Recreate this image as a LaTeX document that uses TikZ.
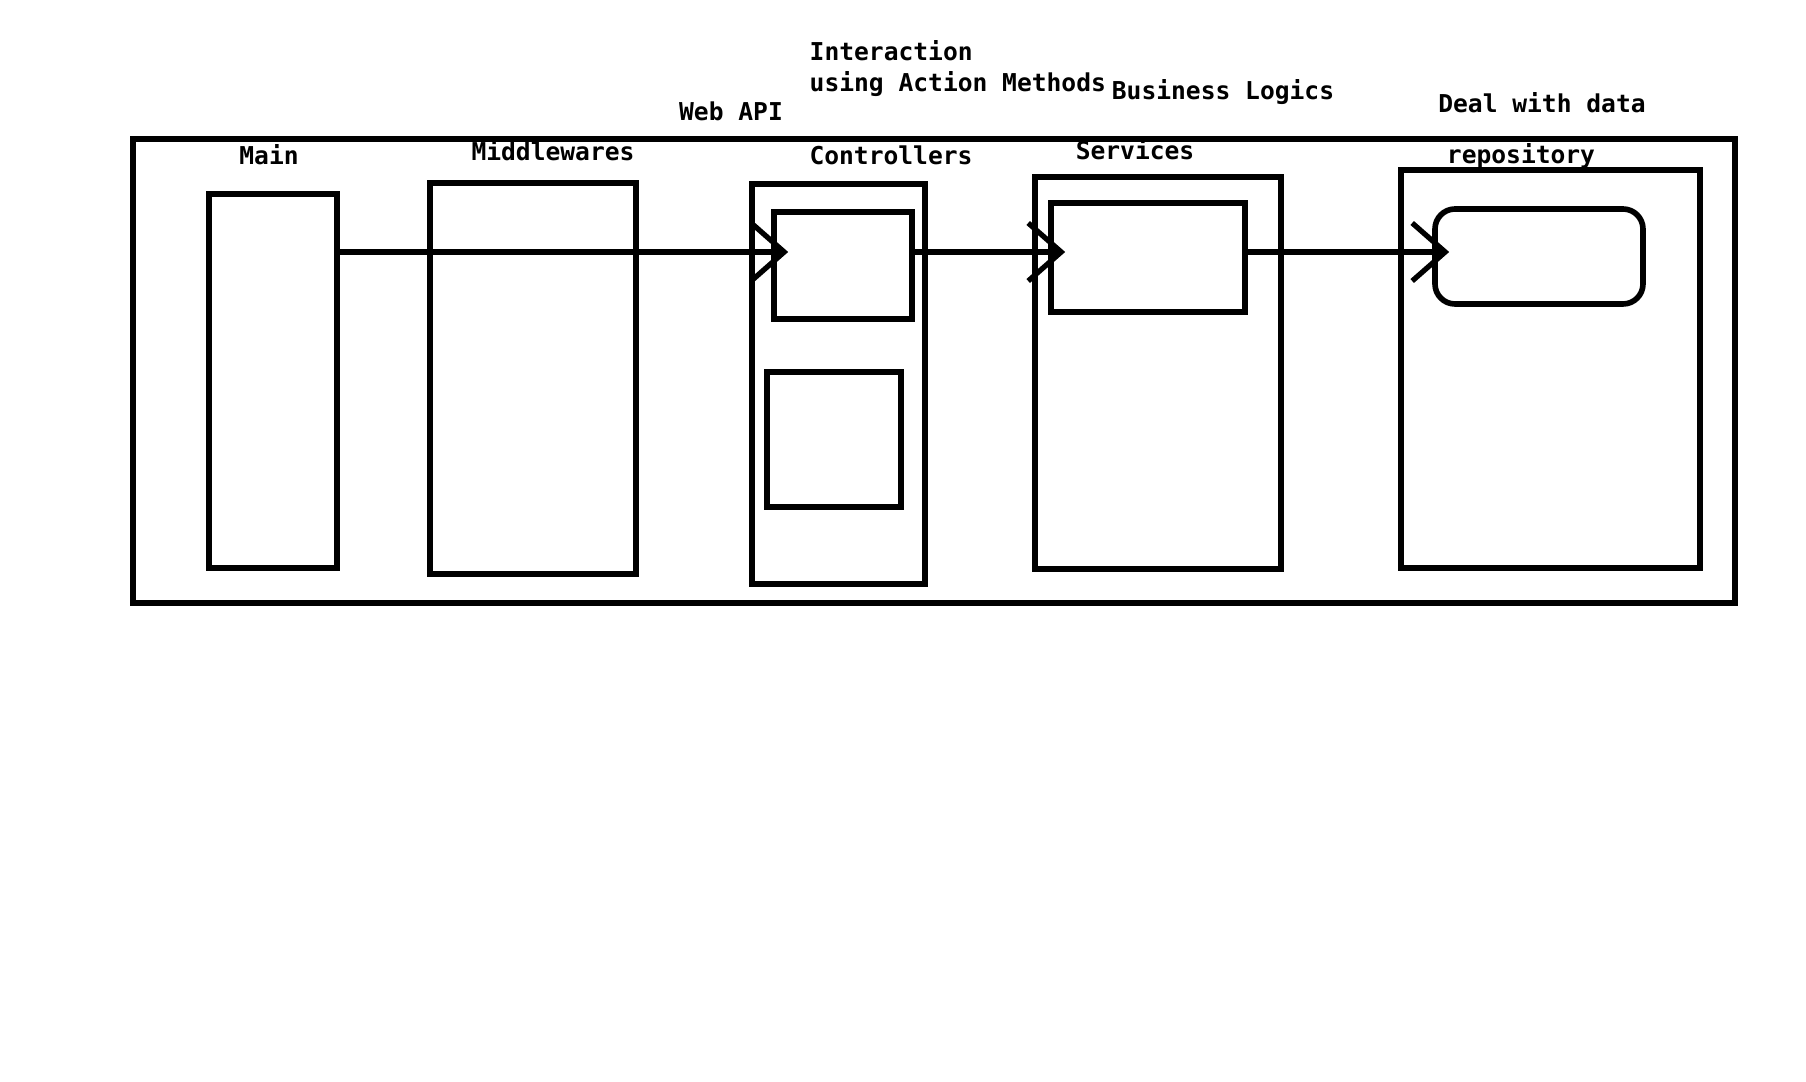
\documentclass[tikz,border=0pt]{standalone}
\usepackage{fontspec}
\setmonofont{DejaVu Sans Mono}
\usetikzlibrary{arrows.meta,positioning,calc}
\tikzset{
  box/.style    = {draw,line width=1.6pt,inner sep=0pt},
  store/.style  = {box,rounded corners=2mm},
  lbl/.style    = {font=\ttfamily\bfseries\fontsize{7}{9.1}\selectfont,
                   inner sep=0pt,anchor=base},
  callarr/.style= {-{Straight Barb[length=3.3mm,width=5.8mm]},
                   line width=1.5pt,shorten >=-1.7mm},
}
\begin{document}
\begin{tikzpicture}
  \useasboundingbox (0,0) rectangle (18.06,10.82);
  % Application frame
  \node[box,minimum width=16.02cm,minimum height=4.64cm] (app) at (9.34,7.11) {};

  % Layers
  \node[box,minimum width=1.28cm,minimum height=3.74cm] (main) at (2.73,7.01) {};
  \node[box,minimum width=2.06cm,minimum height=3.91cm] (mware) at (5.33,7.035) {};
  \node[box,minimum width=1.73cm,minimum height=4.00cm] (ctrl) at (8.385,6.98) {};
  \node[box,minimum width=1.38cm,minimum height=1.07cm] (ctrltop) at (8.43,8.165) {};
  \node[box,minimum width=1.34cm,minimum height=1.35cm] (ctrlbot) at (8.34,6.425) {};
  \node[box,minimum width=2.46cm,minimum height=3.92cm] (svc) at (11.58,7.09) {};
  \node[box,minimum width=1.94cm,minimum height=1.09cm] (svcin) at (11.48,8.245) {};
  \node[box,minimum width=2.99cm,minimum height=3.98cm] (repo) at (15.505,7.13) {};
  \node[store,minimum width=2.08cm,minimum height=0.95cm] (repoin) at (15.39,8.255) {};

  % Layer names
  \node[lbl] (mainlbl)  at (2.69,9.17)  {Main};
  \node[lbl] (mwarelbl) at (5.53,9.21)  {Middlewares};
  \node[lbl] (ctrllbl)  at (8.91,9.17)  {Controllers};
  \node[lbl] (svclbl)   at (11.35,9.22) {Services};
  \node[lbl] (repolbl)  at (15.21,9.18) {repository};

  % Notes above the frame
  \node[lbl] (webapi)   at (7.31,9.61)  {Web API};
  \node[lbl,anchor=base west,align=left] (interact) at (8.09,9.90)
      {Interaction\\using Action Methods};
  \node[lbl] (bizlogic) at (12.23,9.82) {Business Logics};
  \node[lbl] (dealdata) at (15.42,9.69) {Deal with data};

  % Request flow
  \coordinate (lane) at (0,8.30);
  \draw[callarr] (main.east |- lane) -- (ctrltop.west |- lane);
  \draw[callarr] (ctrltop.east |- lane) -- (svcin.west |- lane);
  \draw[callarr] (svcin.east |- lane) -- (repoin.west |- lane);
\end{tikzpicture}
\end{document}
